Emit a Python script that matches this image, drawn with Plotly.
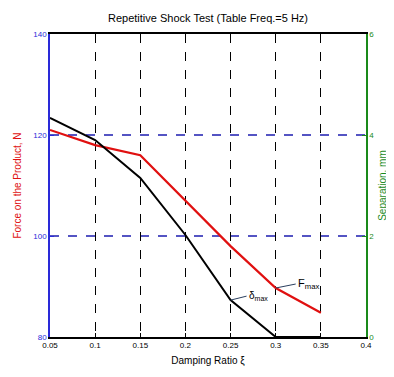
import plotly.graph_objects as go

damping = [0.05, 0.10, 0.15, 0.20, 0.25, 0.30, 0.35]
force_N = [121.0, 118.0, 116.0, 107.0, 98.0, 89.7, 84.8]
separation_mm = [4.34, 3.90, 3.15, 2.02, 0.73, 0.0, 0.0]

x_ticks = [0.05, 0.1, 0.15, 0.2, 0.25, 0.3, 0.35, 0.4]
x_ticktext = ["0.05", "0.1", "0.15", "0.2", "0.25", "0.3", "0.35", "0.4"]
y1_ticks = [80, 100, 120, 140]
y2_ticks = [0, 2, 4, 6]

FONT = "Liberation Sans"
BLUE = "#2a2ad8"
GRIDBLUE = "#1c1cb0"
GREEN = "#1a8a1a"
RED = "#e01010"

fig = go.Figure()
fig.add_trace(go.Scatter(x=damping, y=force_N, mode="lines",
                         line=dict(color=RED, width=2.2), yaxis="y"))
fig.add_trace(go.Scatter(x=damping, y=separation_mm, mode="lines",
                         line=dict(color="black", width=2), yaxis="y2"))

fig.update_layout(
    width=386, height=369,
    margin=dict(l=42, r=28, t=26, b=40, autoexpand=False),
    paper_bgcolor="white", plot_bgcolor="white",
    showlegend=False,
    font=dict(family=FONT, size=8, color="black"),
    title=dict(text="Repetitive Shock Test (Table Freq.=5 Hz)", x=0.5, xanchor="center",
               xref="paper",
               y=1 - 10 / 369, yanchor="middle", font=dict(size=11, family=FONT)),
    xaxis=dict(range=[0.05, 0.4], tickvals=x_ticks, ticktext=x_ticktext,
               showgrid=True, gridcolor="black", griddash="dash", gridwidth=1,
               showline=True, linecolor="black", linewidth=1.5, mirror=True,
               ticks="inside", ticklen=4, tickcolor="black",
               zeroline=False, tickfont=dict(size=8, color="black"),
               title=dict(text="Damping Ratio ξ", font=dict(size=10), standoff=8)),
    yaxis=dict(range=[80, 140], tickvals=y1_ticks,
               showgrid=False,
               showline=True, linecolor=BLUE, linewidth=1.5,
               ticks="inside", ticklen=4, tickcolor=BLUE,
               zeroline=False, tickfont=dict(size=8, color=BLUE),
               title=dict(text="Force on the Product, N", font=dict(size=10, color=RED),
                          standoff=10)),
    yaxis2=dict(range=[0, 6], tickvals=y2_ticks, overlaying="y", side="right",
                showgrid=False, showline=True, linecolor=GREEN, linewidth=1.5,
                ticks="inside", ticklen=4, tickcolor=GREEN,
                zeroline=False, tickfont=dict(size=8, color=GREEN),
                title=dict(text="Separation, mm", font=dict(size=10, color=GREEN),
                           standoff=6)),
)

for v in y1_ticks[1:-1]:
    fig.add_shape(type="line", xref="paper", yref="y", x0=0, x1=1, y0=v, y1=v,
                  line=dict(color=GRIDBLUE, width=1.3, dash="dash"), layer="below")

fig.add_annotation(x=damping[5], y=force_N[5], xref="x", yref="y",
                   text="F<sub>max</sub>", showarrow=True, arrowhead=0, arrowwidth=1,
                   ax=20, ay=-4, xanchor="left", font=dict(size=11))
fig.add_annotation(x=damping[4], y=separation_mm[4], xref="x", yref="y2",
                   text="δ<sub>max</sub>", showarrow=True, arrowhead=0, arrowwidth=1,
                   ax=16, ay=-4, xanchor="left", font=dict(size=10))

fig.write_html("out.html")
